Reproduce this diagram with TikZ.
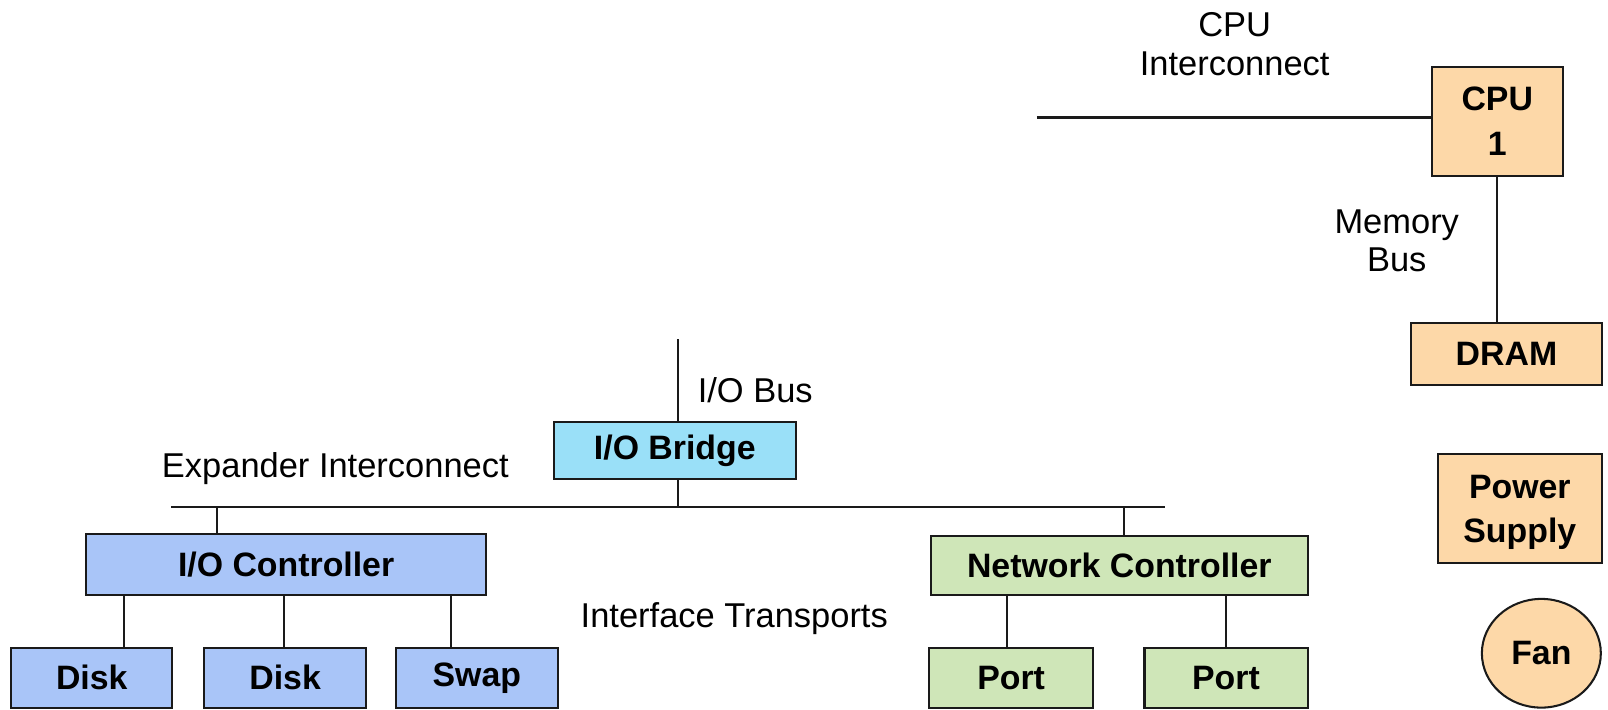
\documentclass[tikz,border=0pt]{standalone}
\usepackage{fontspec}
\setmainfont{Liberation Sans}
\usetikzlibrary{shapes.geometric}
\definecolor{peach}{HTML}{FDD8A8}
\definecolor{cyanbox}{HTML}{9AE0F8}
\definecolor{bluebox}{HTML}{A9C5F8}
\definecolor{greenbox}{HTML}{CFE6B8}
\definecolor{edge}{HTML}{1A1A1A}
\tikzset{
  box/.style={draw=edge, line width=1pt, inner sep=0pt, align=center,
    font=\fontsize{16.5}{21.5}\selectfont\bfseries},
  lbl/.style={inner sep=0pt, align=center, font=\fontsize{16.8}{18.7}\selectfont},
  wire/.style={draw=edge, line width=1.05pt},
}
\begin{document}
\begin{tikzpicture}[x=0.5pt,y=-0.5pt]
\useasboundingbox[fill=white] (0,0) rectangle (1568,692);

% right column
\node[box, fill=peach, minimum width=64pt, minimum height=53pt] (cpu) at (1460,118.5) {CPU\\[0.5pt]1};
\node[box, fill=peach, minimum width=93pt, minimum height=30pt] (dram) at (1469,345) {DRAM};
\node[box, fill=peach, minimum width=80pt, minimum height=53pt, text depth=-2.5pt] (psu) at (1482,496) {Power\\Supply};
\node[box, fill=peach, ellipse, minimum width=58pt, minimum height=53pt] (fan) at (1503,637) {Fan};

\coordinate (cpuL) at (1011,114.5);
\draw[wire] (cpuL) -- (cpuL -| cpu.west);
\draw[wire] (cpu.south) -- (cpu.south |- dram.north);

\node[lbl] (cpulbl) at (1204,43) {CPU\\Interconnect};
\node[lbl] (memlbl) at (1362,235) {Memory\\Bus};

% I/O bridge and bus
\node[box, fill=cyanbox, minimum width=118pt, minimum height=28pt] (bridge) at (658,439.5) {I/O Bridge};
\coordinate (iotop) at (661.5,331);
\draw[wire] (iotop) -- (iotop |- bridge.north);
\node[lbl, anchor=west] (iobus) at (680,380) {I/O Bus};

\coordinate (busL) at (167,494);
\coordinate (busR) at (1136,494);
\draw[wire] (busL) -- (busR);
\draw[wire] ([xshift=1.75pt]bridge.south) -- ([xshift=1.75pt]bridge.south |- busL);
\node[lbl] (explbl) at (327,457) {Expander Interconnect};

% I/O controller side
\node[box, fill=bluebox, minimum width=195pt, minimum height=29.5pt] (ioc) at (279,550.5) {I/O Controller};
\draw[wire] ([xshift=-33.5pt]ioc.north) -- ([xshift=-33.5pt]ioc.north |- busL);

\node[box, fill=bluebox, minimum width=78.5pt, minimum height=29pt] (disk1) at (89.5,661) {Disk};
\node[box, fill=bluebox, minimum width=79pt, minimum height=29pt] (disk2) at (278,661) {Disk};
\node[box, fill=bluebox, minimum width=79pt, minimum height=29pt] (swap) at (465,661) {Swap};
\draw[wire] ([xshift=15.75pt]disk1.north) -- ([xshift=15.75pt]disk1.north |- ioc.south);
\draw[wire] ([xshift=-0.5pt]disk2.north) -- ([xshift=-0.5pt]disk2.north |- ioc.south);
\draw[wire] ([xshift=-12.5pt]swap.north) -- ([xshift=-12.5pt]swap.north |- ioc.south);

\node[lbl] (iftlbl) at (716,603) {Interface Transports};

% network side
\node[box, fill=greenbox, minimum width=183.5pt, minimum height=29pt] (nc) at (1091.5,551.5) {Network Controller};
\draw[wire] ([xshift=2.25pt]nc.north) -- ([xshift=2.25pt]nc.north |- busL);
\node[box, fill=greenbox, minimum width=80pt, minimum height=29pt] (port1) at (986,661) {Port};
\node[box, fill=greenbox, minimum width=79.5pt, minimum height=29pt] (port2) at (1195.5,661) {Port};
\draw[wire] ([xshift=-2pt]port1.north) -- ([xshift=-2pt]port1.north |- nc.south);
\draw[wire] (port2.north) -- (port2.north |- nc.south);
\end{tikzpicture}
\end{document}
